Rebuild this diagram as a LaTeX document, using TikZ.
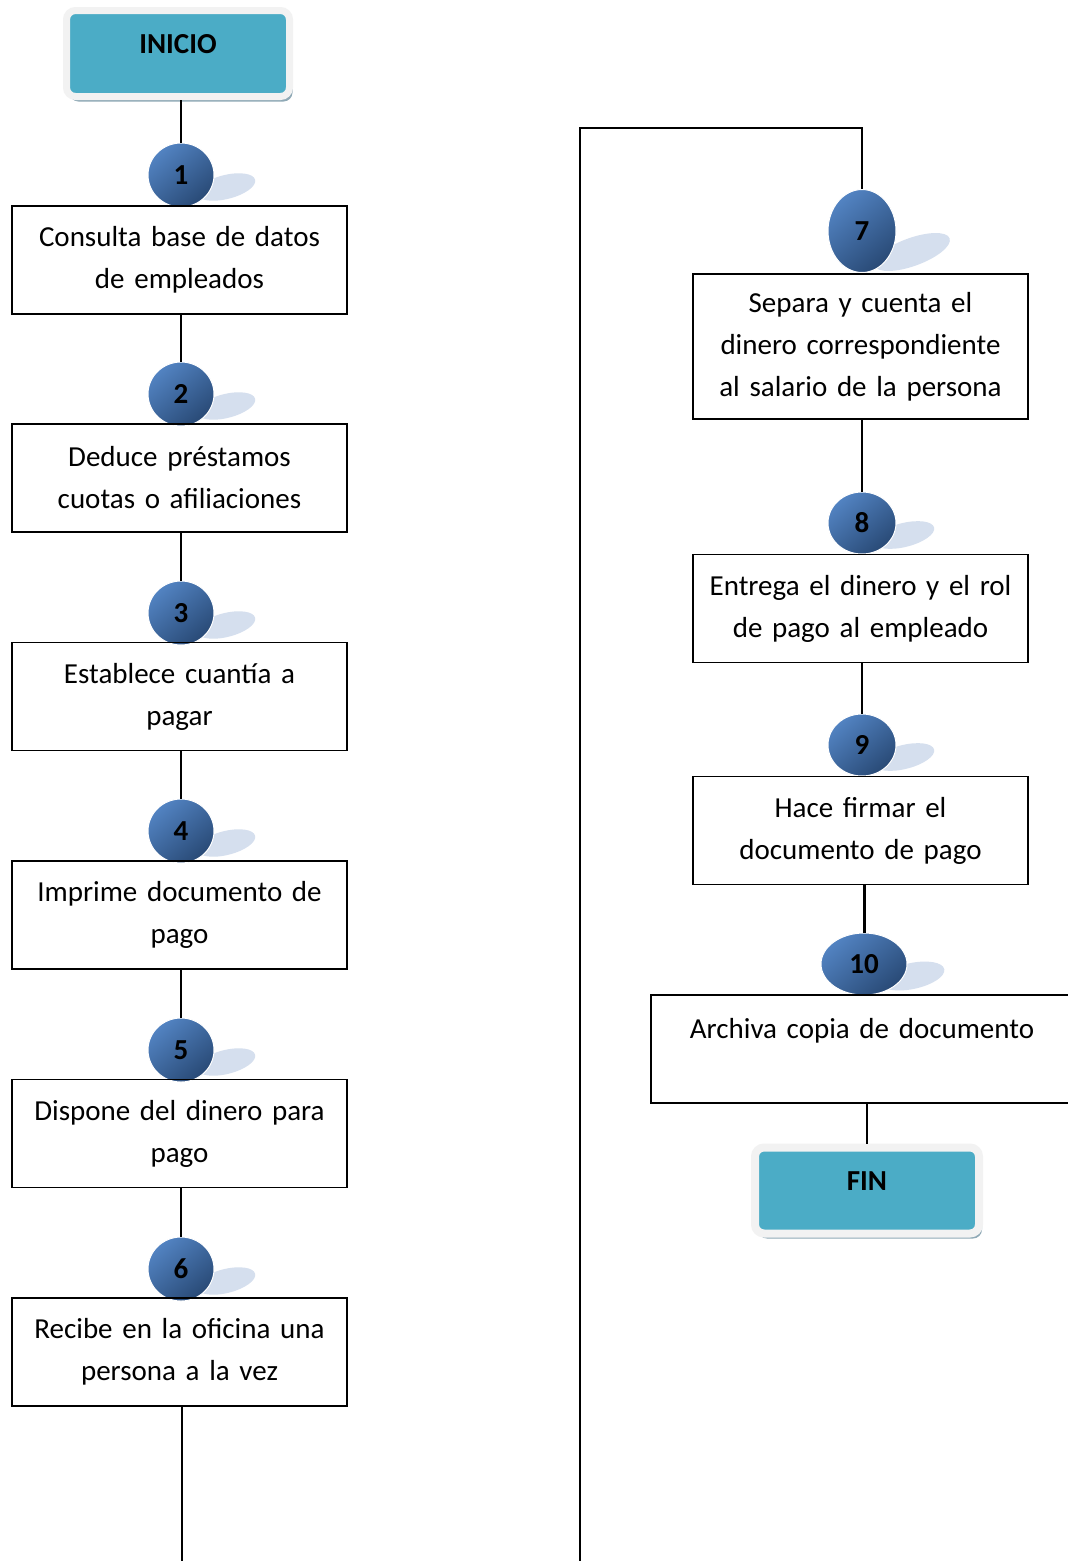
\documentclass[tikz,border=0pt]{standalone}
\usepackage{fontspec}
\setmainfont{Carlito}
\usetikzlibrary{shapes.geometric,shadows}
\definecolor{tealbox}{HTML}{4BACC6}
\definecolor{tealframe}{HTML}{F2F2F2}
\definecolor{tealshadow}{HTML}{8FA9B6}
\definecolor{balllight}{HTML}{5283C2}
\definecolor{balldark}{HTML}{294A76}
\definecolor{ballshadow}{HTML}{D5DFEE}
\tikzset{
  stepbox/.style={draw=black,line width=1.6pt,minimum width=335pt,minimum height=108pt,
    text width=330pt,align=center,inner sep=0pt,font=\fontsize{29}{42}\selectfont},
  endbox/.style={rectangle,rounded corners=9pt,fill=tealbox,draw=tealframe,line width=7pt,
    minimum width=223pt,minimum height=86pt,text height=9pt,text depth=9pt,
    font=\fontsize{29}{30}\selectfont\bfseries,
    drop shadow={shadow xshift=3pt,shadow yshift=-5pt,fill=tealshadow,opacity=1}},
  ball/.style={ellipse,minimum width=66pt,minimum height=64pt,inner sep=0pt,
    draw=white,line width=1pt,left color=balllight,right color=balldark,shading angle=40,
    font=\fontsize{29}{29}\selectfont\bfseries},
  ballshade/.style={fill=ballshadow},
  link/.style={line width=1.6pt},
}
\begin{document}
\begin{tikzpicture}[x=1pt,y=-1pt]
  \useasboundingbox[fill=white] (0,0) rectangle (1068,1561);

  % left column
  \node[endbox] (inicio) at (178,53.5) {INICIO};

  \fill[ballshade,rotate around={14:(226,187)}] (226,187) ellipse (30 and 12);
  \node[ball] (n1) at (181,175) {1};
  \node[stepbox] (s1) at (179.5,260) {Consulta base de datos\\de empleados};

  \fill[ballshade,rotate around={14:(226,406)}] (226,406) ellipse (30 and 12);
  \node[ball] (n2) at (181,394) {2};
  \node[stepbox] (s2) at (179.5,478) {Deduce préstamos\\cuotas o afiliaciones};

  \fill[ballshade,rotate around={14:(226,625)}] (226,625) ellipse (30 and 12);
  \node[ball] (n3) at (181,613) {3};
  \node[stepbox] (s3) at (179.5,696.5) {Establece cuantía a\\pagar};

  \fill[ballshade,rotate around={14:(226,843)}] (226,843) ellipse (30 and 12);
  \node[ball] (n4) at (181,831) {4};
  \node[stepbox] (s4) at (179.5,915) {Imprime documento de\\pago};

  \fill[ballshade,rotate around={14:(226,1062)}] (226,1062) ellipse (30 and 12);
  \node[ball] (n5) at (181,1050) {5};
  \node[stepbox] (s5) at (179.5,1133.5) {Dispone del dinero para\\pago};

  \fill[ballshade,rotate around={14:(226,1281)}] (226,1281) ellipse (30 and 12);
  \node[ball] (n6) at (181,1269) {6};
  \node[stepbox] (s6) at (179.5,1352) {Recibe en la oficina una\\persona a la vez};

  \coordinate (lbot) at (182,1561);
  \draw[link] (n1 |- inicio.south) -- (n1);
  \draw[link] (n2 |- s1.south) -- (n2);
  \draw[link] (n3 |- s2.south) -- (n3);
  \draw[link] (n4 |- s3.south) -- (n4);
  \draw[link] (n5 |- s4.south) -- (n5);
  \draw[link] (n6 |- s5.south) -- (n6);
  \draw[link] (lbot |- s6.south) -- (lbot);

  % right column
  \coordinate (rbot) at (580,1561);
  \coordinate (rtop) at (580,128);

  \fill[ballshade,rotate around={20:(912,252)}] (912,252) ellipse (40 and 14);
  \node[ball,minimum width=68pt,minimum height=83pt] (n7) at (862,231) {7};
  \node[stepbox,minimum height=145pt] (s7) at (860.5,346.5)
    {Separa y cuenta el\\dinero correspondiente\\al salario de la persona};

  \fill[ballshade,rotate around={14:(904,535)}] (904,535) ellipse (31 and 12);
  \node[ball,minimum width=68pt,minimum height=62pt] (n8) at (862,523) {8};
  \node[stepbox] (s8) at (860.5,608.5) {Entrega el dinero y el rol\\de pago al empleado};

  \fill[ballshade,rotate around={14:(904,757)}] (904,757) ellipse (31 and 12);
  \node[ball,minimum width=68pt,minimum height=62pt] (n9) at (862,745) {9};
  \node[stepbox] (s9) at (860.5,830.5) {Hace firmar el\\documento de pago};

  \fill[ballshade,rotate around={12:(912,976)}] (912,976) ellipse (33 and 13);
  \node[ball,minimum width=86pt,minimum height=62pt] (n10) at (864,964) {10};
  \node[stepbox,minimum width=422pt,text width=410pt] (s10) at (862,1049)
    {Archiva copia de documento\\\mbox{}};

  \node[endbox,minimum width=224pt,line width=8pt] (fin) at (867,1190.5) {FIN};

  \draw[link] (rbot) |- (n7 |- rtop) -- (n7);
  \draw[link] (n8 |- s7.south) -- (n8);
  \draw[link] (n9 |- s8.south) -- (n9);
  \draw[line width=3pt] (n10 |- s9.south) -- (n10);
  \draw[link] (fin |- s10.south) -- (fin);
\end{tikzpicture}
\end{document}
